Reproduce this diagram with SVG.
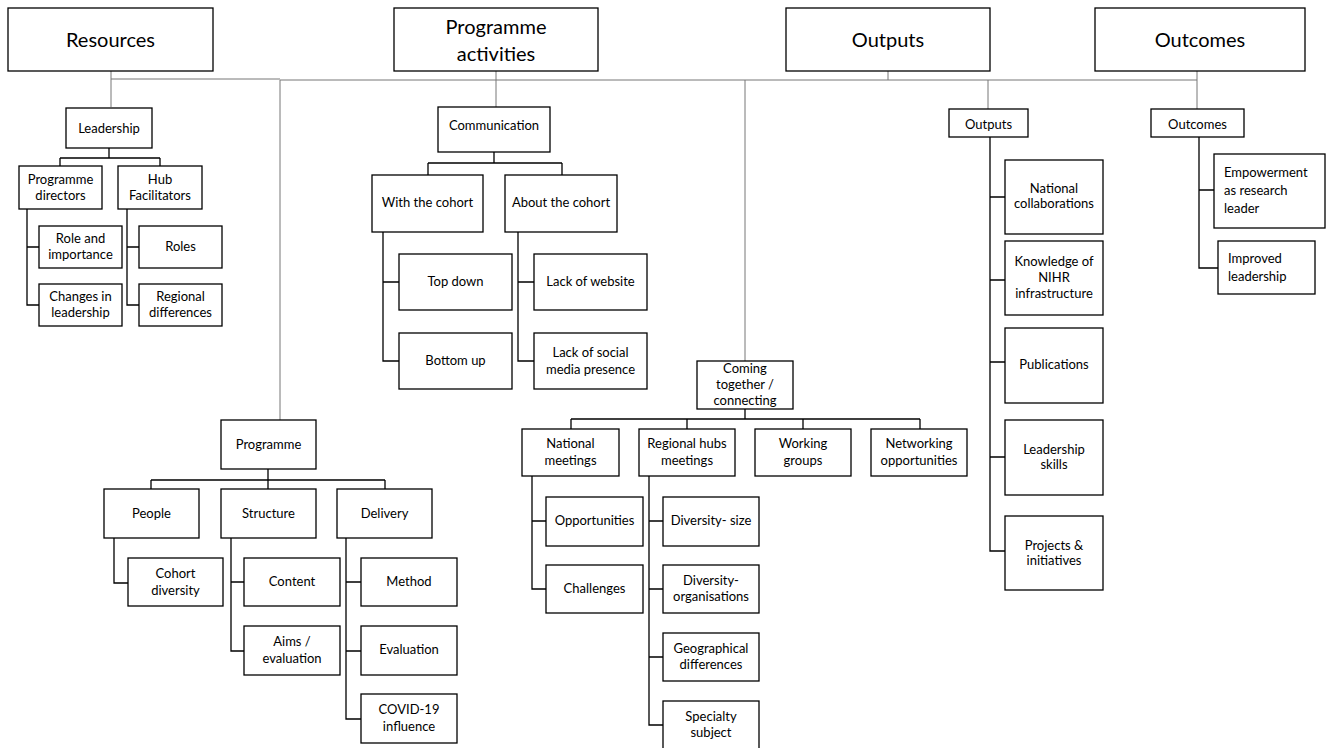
<svg xmlns="http://www.w3.org/2000/svg" width="1327" height="748" viewBox="0 0 1327 748">
<style>
rect{fill:#fff;stroke:#000;stroke-width:1.3}
text{font-family:Lato,"Liberation Sans",sans-serif;font-size:13px;fill:#000;text-anchor:middle}
.big{font-size:20px}
.l{text-anchor:start}
#connectors path{fill:none;stroke:#000;stroke-width:1.3}
#connectors path.top{stroke:#777;stroke-width:1}
</style>
<rect x="0" y="0" width="1327" height="748" style="fill:#fff;stroke:none"/>
<g id="connectors">
<path class="top" d="M111 71V107M111 79H280M280 80H1197M280 80V420M496 71V107M745 80V361M888 71V80M988 80V109M1197 71V109"/>
<path d="M109 148V158M60 158H160M60 158V166M160 158V166M27 209V305H39M27 247H39M127 209V305H139M127 247H139"/>
<path d="M494 152V163M428 163H562M428 163V175M562 163V175M383 232V361H399M383 282H399M518 232V361H534M518 282H534"/>
<path d="M745 409V419M571 419H920M571 419V429M687 419V429M803 419V429M920 419V429M532 476V589H546M532 521H546M649 476V725H663M649 521H663M649 589H663M649 657H663"/>
<path d="M268 469V480M151 480H385M151 480V489M268 480V489M385 480V489M114 538V583H128M231 538V651H244M231 582H244M346 538V719H361M346 582H361M346 651H361"/>
<path d="M990 137V551H1005M990 197H1005M990 280H1005M990 362H1005M990 457H1005M1199 137V268H1218M1199 190H1214"/>
</g>
<g id="n-resources"><rect x="8" y="8" width="205" height="63"/><text class="big" x="110.5" y="47">Resources</text></g>
<g id="n-activities"><rect x="394" y="8" width="204" height="63"/><text class="big" x="496" y="34">Programme</text><text class="big" x="496" y="61">activities</text></g>
<g id="n-outputs"><rect x="786" y="8" width="204" height="63"/><text class="big" x="888" y="47">Outputs</text></g>
<g id="n-outcomes"><rect x="1095" y="8" width="210" height="63"/><text class="big" x="1200" y="47">Outcomes</text></g>

<g id="n-leadership"><rect x="66" y="108" width="86" height="40"/><text x="109" y="133">Leadership</text></g>
<g id="n-progdirectors"><rect x="19" y="166" width="83" height="43"/><text x="60.5" y="184">Programme</text><text x="60.5" y="200">directors</text></g>
<g id="n-hubfac"><rect x="118" y="166" width="84" height="43"/><text x="160" y="184">Hub</text><text x="160" y="200">Facilitators</text></g>
<g id="n-roleimp"><rect x="39" y="226" width="83" height="42"/><text x="80.5" y="243">Role and</text><text x="80.5" y="259">importance</text></g>
<g id="n-changes"><rect x="39" y="284" width="83" height="42"/><text x="80.5" y="301">Changes in</text><text x="80.5" y="317">leadership</text></g>
<g id="n-roles"><rect x="139" y="226" width="83" height="42"/><text x="180.5" y="251">Roles</text></g>
<g id="n-regdiff"><rect x="139" y="284" width="83" height="42"/><text x="180.5" y="301">Regional</text><text x="180.5" y="317">differences</text></g>

<g id="n-communication"><rect x="438" y="107" width="112" height="45"/><text x="494" y="130">Communication</text></g>
<g id="n-withcohort"><rect x="372" y="175" width="111" height="57"/><text x="427.5" y="207">With the cohort</text></g>
<g id="n-aboutcohort"><rect x="505" y="175" width="112" height="57"/><text x="561" y="207">About the cohort</text></g>
<g id="n-topdown"><rect x="399" y="254" width="113" height="56"/><text x="455.5" y="286">Top down</text></g>
<g id="n-bottomup"><rect x="399" y="333" width="113" height="56"/><text x="455.5" y="365">Bottom up</text></g>
<g id="n-website"><rect x="534" y="254" width="113" height="56"/><text x="590.5" y="286">Lack of website</text></g>
<g id="n-social"><rect x="534" y="333" width="113" height="56"/><text x="590.5" y="357">Lack of social</text><text x="590.5" y="374">media presence</text></g>

<g id="n-coming"><rect x="697" y="361" width="96" height="48"/><text x="745" y="373">Coming</text><text x="745" y="389">together  /</text><text x="745" y="405">connecting</text></g>
<g id="n-national"><rect x="522" y="429" width="97" height="47"/><text x="570.5" y="448">National</text><text x="570.5" y="465">meetings</text></g>
<g id="n-regional"><rect x="639" y="429" width="96" height="47"/><text x="687" y="448">Regional hubs</text><text x="687" y="465">meetings</text></g>
<g id="n-working"><rect x="755" y="429" width="96" height="47"/><text x="803" y="448">Working</text><text x="803" y="465">groups</text></g>
<g id="n-networking"><rect x="871" y="429" width="96" height="47"/><text x="919" y="448">Networking</text><text x="919" y="465">opportunities</text></g>
<g id="n-opps"><rect x="546" y="497" width="97" height="49"/><text x="594.5" y="525">Opportunities</text></g>
<g id="n-challenges"><rect x="546" y="565" width="97" height="48"/><text x="594.5" y="593">Challenges</text></g>
<g id="n-divsize"><rect x="663" y="497" width="96" height="49"/><text x="711" y="525">Diversity- size</text></g>
<g id="n-divorg"><rect x="663" y="565" width="96" height="48"/><text x="711" y="585">Diversity-</text><text x="711" y="601">organisations</text></g>
<g id="n-geo"><rect x="663" y="633" width="96" height="48"/><text x="711" y="653">Geographical</text><text x="711" y="669">differences</text></g>
<g id="n-specialty"><rect x="663" y="701" width="96" height="50"/><text x="711" y="721">Specialty</text><text x="711" y="737">subject</text></g>

<g id="n-programme"><rect x="221" y="420" width="95" height="49"/><text x="268.5" y="449">Programme</text></g>
<g id="n-people"><rect x="104" y="489" width="95" height="49"/><text x="151.5" y="518">People</text></g>
<g id="n-structure"><rect x="221" y="489" width="95" height="49"/><text x="268.5" y="518">Structure</text></g>
<g id="n-delivery"><rect x="337" y="489" width="95" height="49"/><text x="384.5" y="518">Delivery</text></g>
<g id="n-cohortdiv"><rect x="128" y="558" width="95" height="48"/><text x="175.5" y="578">Cohort</text><text x="175.5" y="595">diversity</text></g>
<g id="n-content"><rect x="244" y="558" width="96" height="48"/><text x="292" y="586">Content</text></g>
<g id="n-aims"><rect x="244" y="626" width="96" height="49"/><text x="292" y="646">Aims /</text><text x="292" y="663">evaluation</text></g>
<g id="n-method"><rect x="361" y="558" width="96" height="48"/><text x="409" y="586">Method</text></g>
<g id="n-evaluation"><rect x="361" y="626" width="96" height="49"/><text x="409" y="654">Evaluation</text></g>
<g id="n-covid"><rect x="361" y="694" width="96" height="49"/><text x="409" y="714">COVID-19</text><text x="409" y="731">influence</text></g>

<g id="n-outputs-sub"><rect x="949" y="109" width="79" height="28"/><text x="988.5" y="129">Outputs</text></g>
<g id="n-natcollab"><rect x="1005" y="160" width="98" height="74"/><text x="1054" y="193">National</text><text x="1054" y="208">collaborations</text></g>
<g id="n-knowledge"><rect x="1005" y="241" width="98" height="74"/><text x="1054" y="266">Knowledge of</text><text x="1054" y="282">NIHR</text><text x="1054" y="298">infrastructure</text></g>
<g id="n-publications"><rect x="1005" y="328" width="98" height="75"/><text x="1054" y="369">Publications</text></g>
<g id="n-leadskills"><rect x="1005" y="420" width="98" height="75"/><text x="1054" y="454">Leadership</text><text x="1054" y="469">skills</text></g>
<g id="n-projects"><rect x="1005" y="516" width="98" height="74"/><text x="1054" y="550">Projects &amp;</text><text x="1054" y="565">initiatives</text></g>

<g id="n-outcomes-sub"><rect x="1151" y="109" width="93" height="28"/><text x="1197.5" y="129">Outcomes</text></g>
<g id="n-empower"><rect x="1214" y="154" width="111" height="74"/><text class="l" x="1224" y="177">Empowerment</text><text class="l" x="1224" y="195">as research</text><text class="l" x="1224" y="213">leader</text></g>
<g id="n-improved"><rect x="1218" y="241" width="97" height="53"/><text class="l" x="1228" y="263">Improved</text><text class="l" x="1228" y="281">leadership</text></g>
</svg>
